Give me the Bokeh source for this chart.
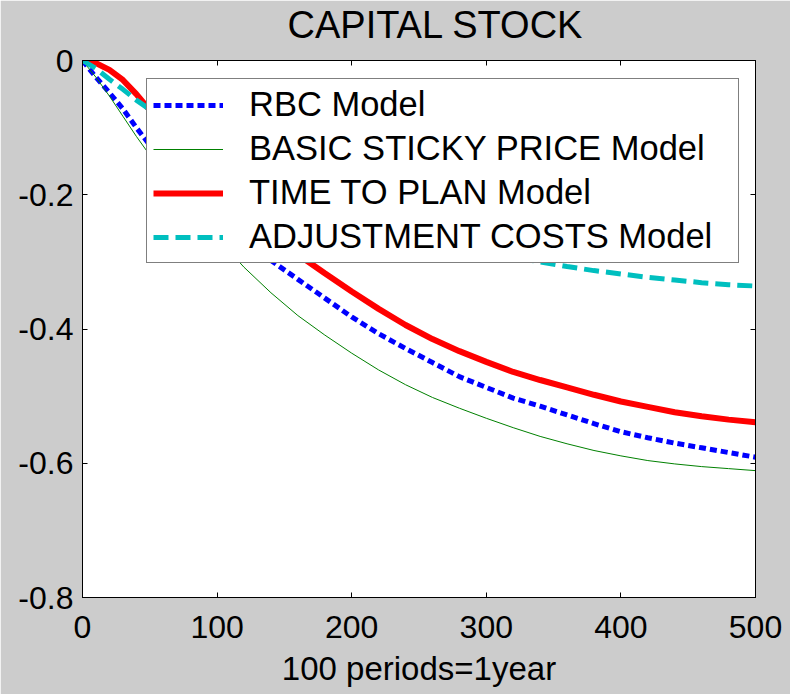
from bokeh.plotting import figure
from bokeh.models import (Range1d, FixedTicker, LinearAxis, Legend, LegendItem, Title)
from bokeh.embed import file_html
from bokeh.resources import INLINE

# ---------------- data ----------------
periods = [0, 10, 20, 30, 40, 50, 60, 80, 100, 120, 140, 160, 180, 200, 220,
           240, 260, 280, 300, 320, 340, 360, 380, 400, 420, 440, 460, 480, 500]

rbc_model = [0.000, -0.025, -0.048, -0.072, -0.100, -0.126, -0.149, -0.192, -0.231,
             -0.266, -0.298, -0.326, -0.354, -0.382, -0.407, -0.429, -0.450, -0.471,
             -0.487, -0.503, -0.515, -0.528, -0.541, -0.553, -0.562, -0.570, -0.577,
             -0.584, -0.591]

sticky_price_model = [0.000, -0.025, -0.053, -0.083, -0.113, -0.141, -0.167, -0.217,
                      -0.264, -0.308, -0.346, -0.380, -0.409, -0.436, -0.461, -0.483,
                      -0.502, -0.518, -0.533, -0.547, -0.560, -0.571, -0.581, -0.589,
                      -0.596, -0.601, -0.605, -0.608, -0.611]

time_to_plan_model = [0.000, -0.004, -0.014, -0.029, -0.050, -0.074, -0.097, -0.142,
                      -0.184, -0.223, -0.259, -0.289, -0.317, -0.344, -0.370, -0.394,
                      -0.415, -0.433, -0.449, -0.464, -0.476, -0.487, -0.498, -0.508,
                      -0.516, -0.524, -0.530, -0.535, -0.539]

adjustment_costs_model = [0.000, -0.012, -0.028, -0.043, -0.059, -0.073, -0.087, -0.112,
                          -0.135, -0.156, -0.175, -0.193, -0.209, -0.224, -0.238, -0.251,
                          -0.263, -0.274, -0.284, -0.293, -0.300, -0.307, -0.313, -0.318,
                          -0.323, -0.327, -0.331, -0.334, -0.336]

series_labels = ["RBC Model", "BASIC STICKY PRICE Model", "TIME TO PLAN Model",
                 "ADJUSTMENT COSTS Model"]

x_ticks = [0, 100, 200, 300, 400, 500]
x_tick_labels = ["0", "100", "200", "300", "400", "500"]
y_ticks = [-0.8, -0.6, -0.4, -0.2, 0.0]
y_tick_labels = ["-0.8", "-0.6", "-0.4", "-0.2", "0"]

title_text = "CAPITAL STOCK"
x_label = "100 periods=1year"

FONT = "Liberation Sans"

# ---------------- figure ----------------
p = figure(width=790, height=694, output_backend="svg", toolbar_location=None,
           x_range=Range1d(0, 500), y_range=Range1d(-0.8, 0),
           min_border_left=82, min_border_right=35, min_border_top=60,
           min_border_bottom=97, x_axis_type=None, y_axis_type=None)
p.title = Title(text=title_text, align="left", offset=205, vertical_align="bottom",
                standoff=0, text_font=FONT, text_font_size="38px",
                text_font_style="normal", text_color="black")
p.border_fill_color = "#cccccc"
p.background_fill_color = "white"
p.outline_line_color = "black"
p.outline_line_width = 1
p.grid.visible = False


def style_axis(ax):
    ax.major_tick_in = 5
    ax.major_tick_out = 0
    ax.minor_tick_line_color = None
    ax.axis_line_color = "black"
    ax.major_tick_line_color = "black"
    ax.major_label_text_font = FONT
    ax.major_label_text_font_size = "32px"
    ax.major_label_text_color = "black"


xb = LinearAxis(ticker=FixedTicker(ticks=x_ticks),
                major_label_overrides=dict(zip(x_ticks, x_tick_labels)))
style_axis(xb)
xb.major_label_standoff = 18
xb.axis_label = x_label
xb.axis_label_text_font = FONT
xb.axis_label_text_font_size = "33px"
xb.axis_label_text_font_style = "normal"
xb.axis_label_text_color = "black"
xb.axis_label_standoff = 9
p.add_layout(xb, "below")

yl = LinearAxis(ticker=FixedTicker(ticks=y_ticks),
                major_label_overrides=dict(zip(y_ticks, y_tick_labels)))
style_axis(yl)
yl.major_label_standoff = 9
p.add_layout(yl, "left")

# top axis: ticks only, blank labels (its standoff leaves room under the title)
xt = LinearAxis(ticker=FixedTicker(ticks=x_ticks),
                major_label_overrides={t: " " for t in x_ticks})
style_axis(xt)
xt.major_label_text_font_size = "1px"
xt.major_label_standoff = 11
p.add_layout(xt, "above")

yr = LinearAxis(ticker=FixedTicker(ticks=y_ticks))
style_axis(yr)
yr.major_label_text_font_size = "0px"
yr.major_label_text_color = None
yr.major_label_standoff = 0
p.add_layout(yr, "right")

# ---------------- lines ----------------
r_rbc = p.line(periods, rbc_model, line_color="#0000ff", line_width=5,
               line_dash="7 4")
r_sticky = p.line(periods, sticky_price_model, line_color="#008000", line_width=1)
r_ttp = p.line(periods, time_to_plan_model, line_color="#ff0000", line_width=6)
r_adj = p.line(periods, adjustment_costs_model, line_color="#00bfbf", line_width=5,
               line_dash="15 7")

legend = Legend(items=[LegendItem(label=series_labels[0], renderers=[r_rbc]),
                       LegendItem(label=series_labels[1], renderers=[r_sticky]),
                       LegendItem(label=series_labels[2], renderers=[r_ttp]),
                       LegendItem(label=series_labels[3], renderers=[r_adj])],
                location=(64, 334))
legend.label_text_font = FONT
legend.label_text_font_size = "34.5px"
legend.label_text_color = "black"
legend.padding = 6
legend.spacing = 5
legend.margin = 0
legend.glyph_width = 70
legend.glyph_height = 38
legend.label_height = 38
legend.label_width = 483
legend.label_standoff = 26
legend.border_line_color = "black"
legend.border_line_width = 1.5
legend.background_fill_color = "white"
legend.background_fill_alpha = 1.0
p.add_layout(legend, "center")

open("out.html", "w").write(file_html(p, INLINE))
